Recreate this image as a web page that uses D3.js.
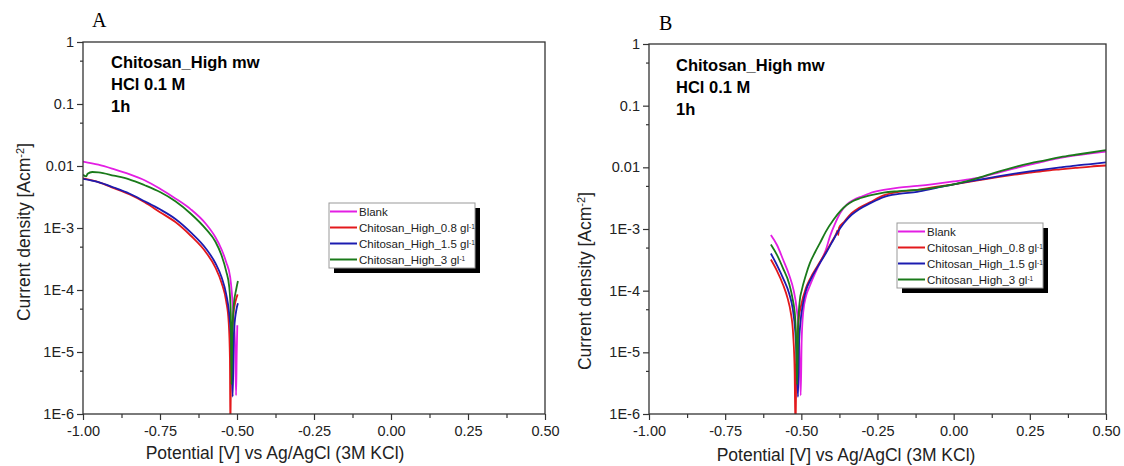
<!DOCTYPE html>
<html>
<head>
<meta charset="utf-8">
<script src="https://cdn.jsdelivr.net/npm/d3@7"></script>
<style>
  body { margin: 0; background: #fff; }
  svg text { font-family: "Liberation Sans", Arial, sans-serif; }
</style>
</head>
<body>
<div id="chart"></div>
<script>
// axis ticks
const xTicks = [-1.0, -0.75, -0.5, -0.25, 0, 0.25, 0.5];
const xMinor = [-0.875, -0.625, -0.375, -0.125, 0.125, 0.375];
const yTicks = [1, 0.1, 0.01, 1e-3, 1e-4, 1e-5, 1e-6];
const yTickLabels = ["1", "0.1", "0.01", "1E-3", "1E-4", "1E-5", "1E-6"];
const yMinor = [0.5, 0.05, 0.005, 5e-4, 5e-5, 5e-6];

// legend entries
const seriesNames = ["Blank", "Chitosan_High_0.8 gl", "Chitosan_High_1.5 gl", "Chitosan_High_3 gl"];
const seriesSup = ["", "-1", "-1", "-1"];
const annotLines = ["Chitosan_High mw", "HCl 0.1 M", "1h"];

// panel A : [potential V, current density A/cm2]
const aBlank = [[-1.00, 0.0118], [-0.95, 0.0105], [-0.90, 0.0089], [-0.85, 0.0074], [-0.80, 0.0059],
  [-0.75, 0.0043], [-0.70, 0.0030], [-0.65, 0.0020], [-0.60, 0.00115], [-0.57, 0.00071],
  [-0.55, 0.00045], [-0.535, 0.00028], [-0.522, 0.00016], [-0.512, 0.000043], [-0.506, 0.000012],
  [-0.503, 0.000002], [-0.501, 0.000009], [-0.499, 0.000027]];
const aLow = [[-1.00, 0.0063], [-0.95, 0.0055], [-0.90, 0.0044], [-0.85, 0.0035], [-0.80, 0.0026],
  [-0.75, 0.0018], [-0.70, 0.00125], [-0.65, 0.00075], [-0.60, 0.00040], [-0.57, 0.00023],
  [-0.55, 0.00013], [-0.535, 0.000065], [-0.527, 0.00003], [-0.523, 0.000008], [-0.5215, 0.0000005],
  [-0.519, 0.00001], [-0.512, 0.00004], [-0.505, 0.000065], [-0.498, 0.000085]];
const aMid = [[-1.00, 0.0062], [-0.95, 0.0055], [-0.90, 0.0045], [-0.85, 0.0036], [-0.80, 0.0027],
  [-0.75, 0.0020], [-0.70, 0.00140], [-0.65, 0.00085], [-0.60, 0.00046], [-0.57, 0.00027],
  [-0.55, 0.00016], [-0.535, 0.000085], [-0.525, 0.000040], [-0.518, 0.000012], [-0.514, 0.0000019],
  [-0.51, 0.00002], [-0.503, 0.000045], [-0.497, 0.000061]];
const aHigh = [[-1.00, 0.0072], [-0.99, 0.0068], [-0.985, 0.0075], [-0.97, 0.0080], [-0.95, 0.0079],
  [-0.90, 0.0070], [-0.85, 0.0061], [-0.80, 0.0049], [-0.75, 0.0038], [-0.70, 0.0027],
  [-0.65, 0.0017], [-0.60, 0.00095], [-0.57, 0.00060], [-0.55, 0.00036], [-0.535, 0.00020],
  [-0.525, 0.00011], [-0.52, 0.00004], [-0.518, 0.000003], [-0.515, 0.00002], [-0.51, 0.00006],
  [-0.503, 0.0001], [-0.497, 0.00014]];

// panel B
const bBlank = [[-0.60, 0.0008], [-0.58, 0.00055], [-0.56, 0.00032], [-0.54, 0.00018], [-0.525, 0.0001],
  [-0.515, 0.00005], [-0.508, 0.00002], [-0.502, 0.000002], [-0.499, 0.000015], [-0.494, 0.000044],
  [-0.485, 0.00008], [-0.472, 0.00012], [-0.455, 0.00019], [-0.439, 0.00028], [-0.42, 0.00045],
  [-0.406, 0.00076], [-0.39, 0.0012], [-0.373, 0.0018], [-0.35, 0.0025], [-0.329, 0.00295],
  [-0.30, 0.0034], [-0.275, 0.0038], [-0.23, 0.0043], [-0.18, 0.0047], [-0.12, 0.0050],
  [-0.06, 0.0054], [0.0, 0.0059], [0.05, 0.0064], [0.10, 0.0071], [0.15, 0.0083],
  [0.20, 0.0096], [0.25, 0.0111], [0.30, 0.0126], [0.35, 0.0142], [0.40, 0.0156],
  [0.45, 0.0168], [0.50, 0.0180]];
const bLow = [[-0.60, 0.00032], [-0.58, 0.00021], [-0.56, 0.000125], [-0.545, 0.000075], [-0.535, 0.000045],
  [-0.527, 0.00002], [-0.522, 0.000005], [-0.519, 0.0000005], [-0.516, 0.00001], [-0.51, 0.00003],
  [-0.50, 0.00006], [-0.485, 0.00011], [-0.47, 0.00016], [-0.445, 0.00026], [-0.42, 0.00042],
  [-0.40, 0.00062], [-0.385, 0.00085], [-0.381, 0.00095], [-0.379, 0.0008], [-0.376, 0.00105],
  [-0.36, 0.0013], [-0.335, 0.0018], [-0.31, 0.0022], [-0.275, 0.0027], [-0.23, 0.0035],
  [-0.18, 0.0040], [-0.12, 0.0043], [-0.06, 0.0048], [0.0, 0.0053], [0.05, 0.0058],
  [0.10, 0.0064], [0.15, 0.0070], [0.20, 0.0076], [0.25, 0.0082], [0.30, 0.0088],
  [0.35, 0.0093], [0.40, 0.0098], [0.45, 0.0103], [0.50, 0.0107]];
const bMid = [[-0.60, 0.0004], [-0.58, 0.00026], [-0.56, 0.00016], [-0.54, 0.00009], [-0.528, 0.00005],
  [-0.52, 0.000022], [-0.514, 0.000006], [-0.511, 0.0000019], [-0.508, 0.000012], [-0.503, 0.00003],
  [-0.495, 0.00006], [-0.485, 0.0001], [-0.47, 0.00015], [-0.445, 0.00025], [-0.42, 0.0004],
  [-0.40, 0.0006], [-0.38, 0.0009], [-0.36, 0.00125], [-0.335, 0.0017], [-0.31, 0.0021],
  [-0.275, 0.0026], [-0.23, 0.0033], [-0.18, 0.0037], [-0.12, 0.0040], [-0.06, 0.0046],
  [0.0, 0.0053], [0.05, 0.0059], [0.10, 0.0065], [0.15, 0.0072], [0.20, 0.0079],
  [0.25, 0.0086], [0.30, 0.0093], [0.35, 0.0100], [0.40, 0.0107], [0.45, 0.0113],
  [0.50, 0.0120]];
const bHigh = [[-0.60, 0.00056], [-0.58, 0.00038], [-0.56, 0.00023], [-0.54, 0.00013], [-0.53, 0.00008],
  [-0.52, 0.000035], [-0.516, 0.00001], [-0.514, 0.000003], [-0.51, 0.00003], [-0.505, 0.00007],
  [-0.499, 0.0001], [-0.485, 0.00018], [-0.472, 0.00028], [-0.455, 0.00042], [-0.439, 0.00059],
  [-0.42, 0.0009], [-0.395, 0.0014], [-0.37, 0.002], [-0.351, 0.00245], [-0.33, 0.00285],
  [-0.308, 0.00315], [-0.275, 0.0035], [-0.23, 0.0039], [-0.18, 0.0041], [-0.12, 0.0043],
  [-0.06, 0.0047], [0.0, 0.0053], [0.05, 0.0061], [0.10, 0.0072], [0.15, 0.0086],
  [0.20, 0.0101], [0.25, 0.0116], [0.30, 0.0130], [0.35, 0.0146], [0.40, 0.0160],
  [0.45, 0.0174], [0.50, 0.0190]];

const colors = ["#e31ee3", "#e3191c", "#1c1cb0", "#1a7a1a"];

const W = 1124, H = 466;
const svg = d3.select("#chart").append("svg")
  .attr("width", W).attr("height", H);

const panels = [
  { id: "A", left: 83, right: 545, top: 42, bottom: 414, letter: [92, 27], annot: [111, 68],
    legend: [329, 203], xTitle: [275, 459], yTitle: [24, 232], series: [aBlank, aLow, aMid, aHigh] },
  { id: "B", left: 649, right: 1106, top: 44, bottom: 414, letter: [659, 30], annot: [676, 71],
    legend: [897, 223], xTitle: [846, 461], yTitle: [585, 281], series: [bBlank, bLow, bMid, bHigh] }
];

function drawPanel(p) {
  const g = svg.append("g");
  const x = d3.scaleLinear().domain([-1, 0.5]).range([p.left, p.right]);
  const y = d3.scaleLog().domain([1e-6, 1]).range([p.bottom, p.top]);

  g.append("clipPath").attr("id", "clip" + p.id)
    .append("rect")
    .attr("x", p.left).attr("y", p.top)
    .attr("width", p.right - p.left).attr("height", p.bottom - p.top);

  const line = d3.line()
    .x(d => x(d[0]))
    .y(d => y(d[1]))
    .curve(d3.curveMonotoneX);

  g.append("g").attr("clip-path", "url(#clip" + p.id + ")")
    .selectAll("path")
    .data(p.series)
    .enter()
    .append("path")
    .attr("d", line)
    .attr("fill", "none")
    .attr("stroke", (d, i) => colors[i])
    .attr("stroke-width", 1.8);

  // axes
  const xAxis = g.append("g")
    .attr("transform", "translate(0," + p.bottom + ")")
    .call(d3.axisBottom(x).tickValues(xTicks).tickSize(6).tickPadding(6)
      .tickFormat(d => d.toFixed(2)));
  const xAxisMinor = g.append("g")
    .attr("transform", "translate(0," + p.bottom + ")")
    .call(d3.axisBottom(x).tickValues(xMinor).tickSize(4).tickFormat(""));
  const yAxis = g.append("g")
    .attr("transform", "translate(" + p.left + ",0)")
    .call(d3.axisLeft(y).tickValues(yTicks).tickSize(6).tickPadding(3)
      .tickFormat((d, i) => yTickLabels[i]));
  const yAxisMinor = g.append("g")
    .attr("transform", "translate(" + p.left + ",0)")
    .call(d3.axisLeft(y).tickValues(yMinor).tickSize(3).tickFormat(""));

  [xAxis, xAxisMinor, yAxis, yAxisMinor].forEach(a => {
    a.select(".domain").remove();
    a.selectAll(".tick line").attr("stroke", "#333").attr("stroke-width", 1.2);
    a.selectAll(".tick text")
      .attr("fill", "#222")
      .style("font-size", "14.5px")
      .style("font-family", "'Liberation Sans', Arial, sans-serif");
  });

  // frame
  g.append("rect")
    .attr("x", p.left).attr("y", p.top)
    .attr("width", p.right - p.left).attr("height", p.bottom - p.top)
    .attr("fill", "none").attr("stroke", "#333").attr("stroke-width", 1.3);

  // panel letter
  g.append("text")
    .attr("x", p.letter[0]).attr("y", p.letter[1])
    .style("font-family", "'Liberation Serif', 'Times New Roman', serif")
    .style("font-size", "20px")
    .text(p.id);

  // annotation
  g.selectAll(".annot")
    .data(annotLines)
    .enter()
    .append("text")
    .attr("x", p.annot[0])
    .attr("y", (d, i) => p.annot[1] + i * 22)
    .style("font-size", "16.5px")
    .style("font-weight", "bold")
    .text(d => d);

  // axis titles
  g.append("text")
    .attr("x", p.xTitle[0]).attr("y", p.xTitle[1])
    .attr("text-anchor", "middle")
    .style("font-size", "17.5px")
    .attr("fill", "#222")
    .text("Potential [V] vs Ag/AgCl (3M KCl)");

  const yt = g.append("text")
    .attr("transform", "translate(" + p.yTitle[0] + "," + p.yTitle[1] + ") rotate(-90)")
    .attr("text-anchor", "middle")
    .attr("dy", "0.35em")
    .style("font-size", "17.5px")
    .attr("fill", "#222");
  yt.append("tspan").text("Current density [Acm");
  yt.append("tspan").attr("baseline-shift", "super").style("font-size", "11px").text("-2");
  yt.append("tspan").text("]");

  // legend with drop shadow
  const lw = 146, lh = 65;
  const lg = g.append("g").attr("transform", "translate(" + p.legend[0] + "," + p.legend[1] + ")");
  lg.append("rect").attr("x", 5).attr("y", 5).attr("width", lw).attr("height", lh).attr("fill", "#000");
  lg.append("rect").attr("width", lw).attr("height", lh)
    .attr("fill", "#fff").attr("stroke", "#999").attr("stroke-width", 1);
  const rows = lg.selectAll(".row")
    .data(seriesNames)
    .enter()
    .append("g")
    .attr("transform", (d, i) => "translate(0," + (8.5 + i * 16) + ")");
  rows.append("line")
    .attr("x1", 1).attr("x2", 28)
    .attr("stroke", (d, i) => colors[i])
    .attr("stroke-width", 2);
  const lt = rows.append("text")
    .attr("x", 30).attr("dy", "0.36em")
    .style("font-size", "11.5px")
    .attr("fill", "#222");
  lt.append("tspan").text(d => d);
  lt.append("tspan")
    .attr("baseline-shift", "super")
    .style("font-size", "6.5px")
    .text((d, i) => seriesSup[i]);
}

panels.forEach(drawPanel);
</script>
</body>
</html>
